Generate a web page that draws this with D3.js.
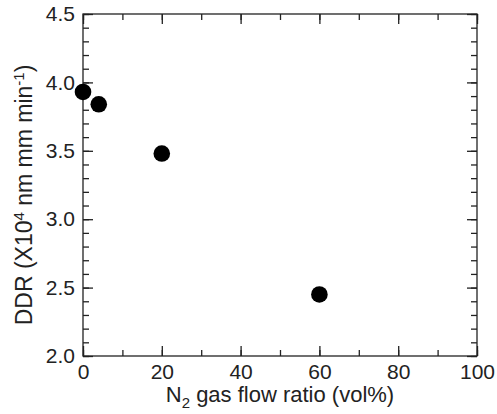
<!DOCTYPE html>
<html lang="en">
<head>
<meta charset="utf-8">
<title>DDR vs N2 gas flow ratio</title>
<script src="https://d3js.org/d3.v7.min.js"></script>
<style>
  body { margin: 0; background: #fff; }
  text { font-family: "Liberation Sans", Arial, sans-serif; fill: #222; }
</style>
</head>
<body>
<svg width="497" height="414"></svg>
<script>
// data
var n2Ratio = [0, 4, 20, 60];
var ddr = [3.93, 3.84, 3.48, 2.45];
var xTicks = [0, 20, 40, 60, 80, 100];
var yTicks = [2.0, 2.5, 3.0, 3.5, 4.0, 4.5];

var svg = d3.select("svg"),
    plotL = 83, plotT = 14, plotR = 477, plotB = 356;

var x = d3.scaleLinear().domain([0, 100]).range([plotL, plotR]),
    y = d3.scaleLinear().domain([2.0, 4.5]).range([plotB, plotT]);

var minorX = d3.range(0, 101, 10),
    minorY = d3.range(20, 46, 1).map(function (d) { return d / 10; });

function styleAxis(g) {
  g.select(".domain").remove();
  g.selectAll("line").attr("stroke", "#222").attr("stroke-width", 1.3);
}

// minor ticks, all four sides, pointing in
svg.append("g").attr("transform", "translate(0," + plotB + ")")
   .call(d3.axisTop(x).tickValues(minorX).tickSize(6).tickFormat("")).call(styleAxis);
svg.append("g").attr("transform", "translate(0," + plotT + ")")
   .call(d3.axisBottom(x).tickValues(minorX).tickSize(6).tickFormat("")).call(styleAxis);
svg.append("g").attr("transform", "translate(" + plotL + ",0)")
   .call(d3.axisRight(y).tickValues(minorY).tickSize(6).tickFormat("")).call(styleAxis);
svg.append("g").attr("transform", "translate(" + plotR + ",0)")
   .call(d3.axisLeft(y).tickValues(minorY).tickSize(6).tickFormat("")).call(styleAxis);

// major ticks
var xb = svg.append("g").attr("transform", "translate(0," + plotB + ")")
   .call(d3.axisBottom(x).tickValues(xTicks).tickSizeInner(-10).tickSizeOuter(0).tickPadding(0).tickFormat(d3.format("d")))
   .call(styleAxis);
xb.selectAll("text").attr("font-size", "21px").attr("y", 23).attr("dy", 0);

svg.append("g").attr("transform", "translate(0," + plotT + ")")
   .call(d3.axisTop(x).tickValues(xTicks).tickSizeInner(-10).tickSizeOuter(0).tickFormat(""))
   .call(styleAxis);

var yl = svg.append("g").attr("transform", "translate(" + plotL + ",0)")
   .call(d3.axisLeft(y).tickValues(yTicks).tickSizeInner(-10).tickSizeOuter(0).tickPadding(0).tickFormat(d3.format(".1f")))
   .call(styleAxis);
yl.selectAll("text").attr("font-size", "21px").attr("x", -8);

svg.append("g").attr("transform", "translate(" + plotR + ",0)")
   .call(d3.axisRight(y).tickValues(yTicks).tickSizeInner(-10).tickSizeOuter(0).tickFormat(""))
   .call(styleAxis);

// frame
svg.append("rect")
   .attr("x", plotL).attr("y", plotT)
   .attr("width", plotR - plotL).attr("height", plotB - plotT)
   .attr("fill", "none").attr("stroke", "#222").attr("stroke-width", 1.3);

// points
svg.append("g").selectAll("circle")
   .data(n2Ratio)
   .enter().append("circle")
   .attr("cx", function (d) { return x(d); })
   .attr("cy", function (d, i) { return y(ddr[i]); })
   .attr("r", 8.3)
   .attr("fill", "#000");

// x label
var xt = svg.append("text")
   .attr("x", 280).attr("y", 402)
   .attr("text-anchor", "middle").attr("font-size", "22px");
xt.append("tspan").text("N");
xt.append("tspan").attr("font-size", "15px").attr("dy", 6).text("2");
xt.append("tspan").attr("dy", -6).text(" gas flow ratio (vol%)");

// y label
var yt = svg.append("text")
   .attr("transform", "translate(32,195) rotate(-90)")
   .attr("text-anchor", "middle").attr("font-size", "23px");
yt.append("tspan").text("DDR (X10");
yt.append("tspan").attr("font-size", "15px").attr("dy", -8).text("4");
yt.append("tspan").attr("dy", 8).text(" nm mm min");
yt.append("tspan").attr("font-size", "15px").attr("dy", -8).text("-1");
yt.append("tspan").attr("dy", 8).text(")");
</script>
</body>
</html>
